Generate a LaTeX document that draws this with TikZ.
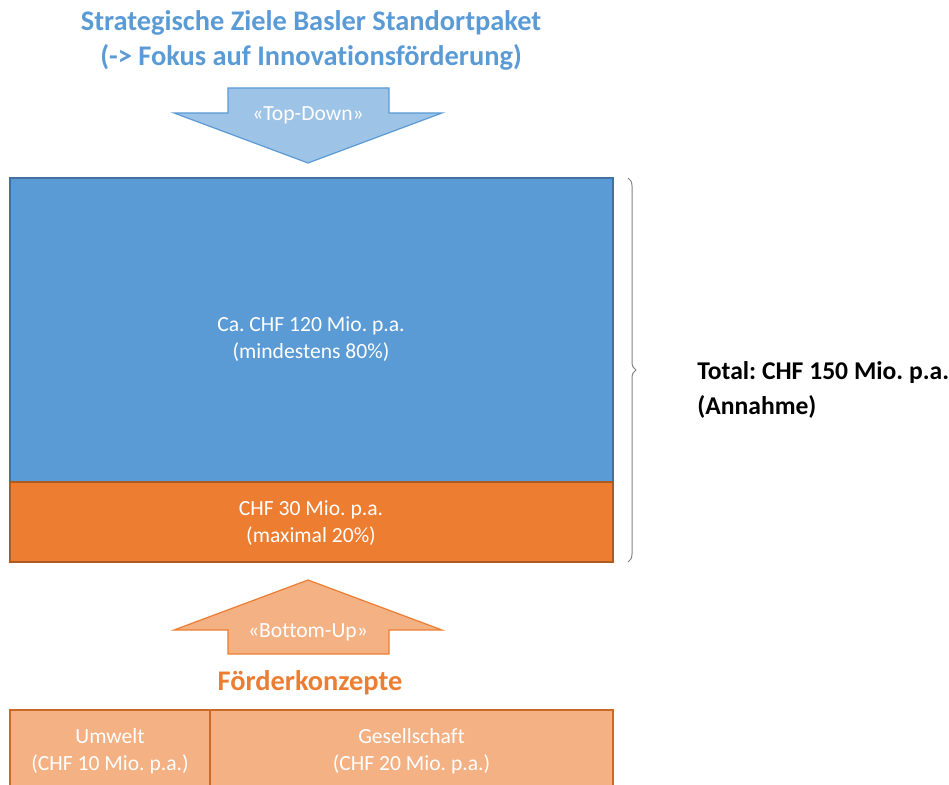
\documentclass[tikz,border=0pt]{standalone}
\usepackage{fontspec}
\setmainfont{Carlito}[Ligatures=NoCommon]
\usetikzlibrary{decorations.pathreplacing}
\definecolor{baselblue}     {RGB}{91,155,213}
\definecolor{baselblueline} {RGB}{65,113,156}
\definecolor{basellight}    {RGB}{157,195,230}
\definecolor{baselorange}   {RGB}{237,125,49}
\definecolor{baselorangeline}{RGB}{174,90,33}
\definecolor{baselpeach}    {RGB}{244,177,131}
\definecolor{baselgray}     {RGB}{130,130,130}
\frenchspacing

\begin{document}
\begin{tikzpicture}[
  x=0.5pt,y=-0.5pt,
  block/.style={draw,inner sep=0pt,outer sep=0pt,line width=0.6pt},
  bigblue/.style={block,fill=baselblue,draw=baselblueline,
                  minimum width=301.5pt,minimum height=152pt},
  bigorange/.style={block,fill=baselorange,draw=baselorangeline,
                    minimum width=301.5pt,minimum height=40pt},
  konzept/.style={block,fill=baselpeach,draw=baselorange!85!black,
                  minimum height=41.5pt,font=\fontsize{10.8}{13.5}\selectfont,
                  text=white,align=center},
  inner/.style={font=\fontsize{10.8}{13.5}\selectfont,text=white,align=center},
  heading/.style={font=\fontsize{14.2}{17.5}\selectfont\bfseries,align=center},
  updown/.style={line width=0.6pt,line join=miter},
]

\useasboundingbox (0,0) rectangle (949,785);

%% ── Title ───────────────────────────────────────────────────────────────
\node[heading,text=baselblue] (ziele) at (311,40.5)
  {Strategische Ziele Basler Standortpaket\\
   (-> Fokus auf Innovationsförderung)};

%% ── Top-down arrow ──────────────────────────────────────────────────────
\draw[updown,fill=basellight,draw=baselblue]
  (228,88) -- (389,88) -- (389,113) -- (442,113) -- (308,163)
  -- (174,113) -- (228,113) -- cycle;
\node[inner] (topdown) at (308,115) {«Top-Down»};

%% ── Budget blocks ───────────────────────────────────────────────────────
\node[bigblue]   (innov) at (311.5,330) {};
\node[bigorange] (foerd) at (311.5,522) {};
\node[inner] (innovtxt) at (311,339)
  {Ca. CHF 120 Mio. p.a.\\(mindestens 80\%)};
\node[inner] (foerdtxt) at (311,523)
  {CHF 30 Mio. p.a.\\(maximal 20\%)};

%% ── Total bracket ───────────────────────────────────────────────────────
\draw[baselgray,line width=0.5pt,decorate,
      decoration={brace,amplitude=4pt}]
  (628,178) -- (628,562);
\node[heading,anchor=west,align=left,inner xsep=0pt,
      font=\fontsize{12.8}{17.5}\selectfont\bfseries] (total) at (697,389.5)
  {Total: CHF 150 Mio. p.a.\\(Annahme)};

%% ── Bottom-up arrow ─────────────────────────────────────────────────────
\draw[updown,fill=baselpeach,draw=baselorange]
  (308,580) -- (442,630) -- (389,630) -- (389,654) -- (228,654)
  -- (228,630) -- (174,630) -- cycle;
\node[inner] (bottomup) at (308,632) {«Bottom-Up»};
\node[heading,text=baselorange] (konzepte) at (310,683) {Förderkonzepte};

%% ── Funding concepts ────────────────────────────────────────────────────
\node[konzept,minimum width=100pt]   (umwelt) at (110,751.5)
  {Umwelt\\(CHF 10 Mio. p.a.)};
\node[konzept,minimum width=201.5pt] (gesell) at (411.5,751.5)
  {Gesellschaft\\(CHF 20 Mio. p.a.)};

\end{tikzpicture}
\end{document}
